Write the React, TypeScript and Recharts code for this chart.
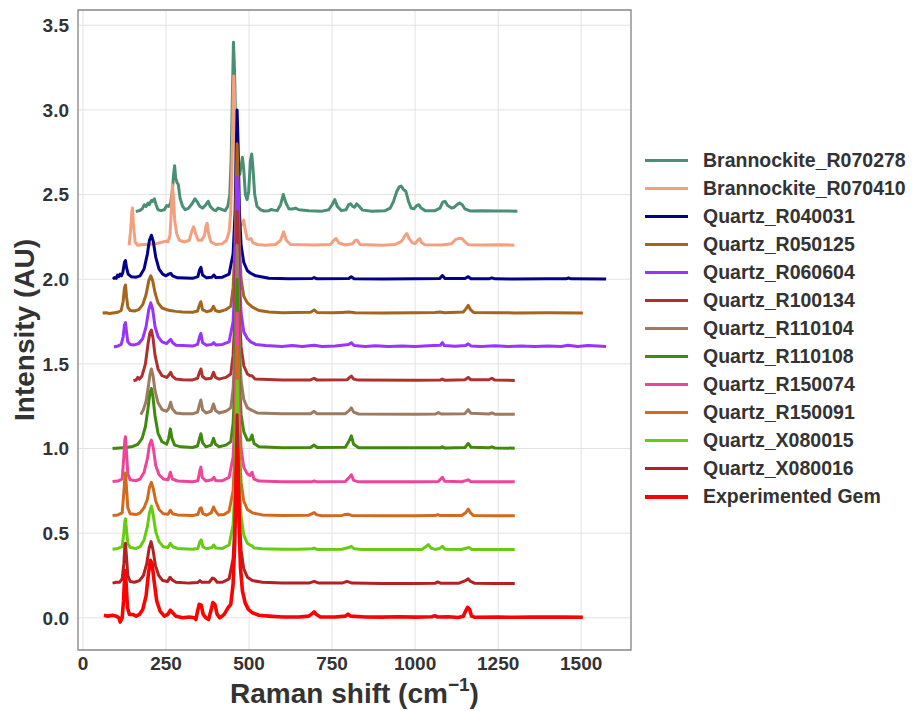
import { LineChart, Line, XAxis, YAxis, CartesianGrid, ReferenceArea, Label } from "recharts"

type Pt = [number, number]

const xTicks = [0, 250, 500, 750, 1000, 1250, 1500]
const yTicks = [0, 0.5, 1, 1.5, 2, 2.5, 3, 3.5]

// relative intensities (baseline 0, main peak 1) per spectrum
const brannockite278: Pt[] = [
  [159, 0], [170, 0.005], [178, 0.015], [185, 0.04], [190, 0.03], [196, 0.05], [200, 0.04], [206, 0.065],
  [210, 0.06], [215, 0.075], [220, 0.04], [226, 0.01], [235, 0.005], [245, 0.01], [252, 0.035], [258, 0.03],
  [264, 0.05], [269, 0.12], [273, 0.22], [276, 0.27], [279, 0.2], [283, 0.17], [287, 0.16], [292, 0.08],
  [300, 0.03], [308, 0.01], [318, 0.02], [330, 0.05], [337, 0.075], [343, 0.06], [352, 0.03], [360, 0.02],
  [370, 0.04], [377, 0.06], [383, 0.03], [393, 0.01], [400, 0.005], [407, 0.02], [414, 0.015], [420, 0.01],
  [428, 0.005], [436, 0.03], [442, 0.1], [446, 0.3], [450, 0.7], [453, 1.0], [456, 0.85], [460, 0.5],
  [466, 0.25], [472, 0.22], [477, 0.28], [480, 0.32], [484, 0.25], [489, 0.1], [494, 0.07], [499, 0.12],
  [504, 0.3], [508, 0.34], [512, 0.25], [517, 0.1], [524, 0.03], [535, 0.01], [545, 0.003], [560, 0.005],
  [567, 0.012], [574, 0.008], [585, 0.005], [595, 0.04], [603, 0.1], [611, 0.05], [620, 0.015], [630, 0.015],
  [640, 0.02], [650, 0.01], [680, 0.005], [720, 0.002], [740, 0.01], [750, 0.04], [758, 0.07], [766, 0.03],
  [778, 0.005], [792, 0.01], [800, 0.04], [806, 0.045], [812, 0.03], [818, 0.025], [824, 0.045], [832, 0.03],
  [842, 0.008], [870, 0.002], [910, 0.005], [925, 0.02], [935, 0.06], [945, 0.12], [952, 0.145], [958, 0.15],
  [965, 0.13], [972, 0.12], [980, 0.06], [988, 0.02], [996, 0.015], [1005, 0.035], [1011, 0.04], [1018, 0.02],
  [1030, 0.005], [1060, 0.005], [1075, 0.02], [1083, 0.055], [1090, 0.06], [1098, 0.035], [1110, 0.02],
  [1118, 0.025], [1126, 0.04], [1134, 0.05], [1142, 0.04], [1150, 0.015], [1165, 0.003], [1200, 0.005],
  [1250, 0.003], [1308, 0.002],
]

const brannockite410: Pt[] = [
  [139, 0], [143, 0.08], [147, 0.2], [149, 0.22], [152, 0.12], [157, 0.02], [165, 0], [180, 0.005],
  [200, 0.005], [220, 0.01], [240, 0.02], [250, 0.025], [256, 0.02], [262, 0.06], [266, 0.2], [269, 0.356],
  [272, 0.3], [276, 0.15], [282, 0.07], [290, 0.03], [305, 0.02], [320, 0.03], [327, 0.08], [333, 0.11],
  [339, 0.07], [347, 0.03], [357, 0.03], [366, 0.06], [371, 0.12], [374, 0.13], [378, 0.07], [385, 0.02],
  [400, 0.005], [420, 0.01], [432, 0.03], [440, 0.08], [445, 0.2], [449, 0.5], [452, 0.85], [454, 1.0],
  [457, 0.8], [460, 0.45], [466, 0.2], [472, 0.12], [478, 0.12], [484, 0.15], [488, 0.1], [494, 0.04],
  [500, 0.035], [506, 0.04], [512, 0.015], [525, 0.005], [550, 0], [580, 0.005], [595, 0.03], [604, 0.08],
  [612, 0.03], [625, 0.005], [700, 0.002], [745, 0.005], [755, 0.03], [762, 0.04], [770, 0.015], [790, 0.002],
  [812, 0.01], [820, 0.03], [826, 0.03], [834, 0.005], [900, 0], [940, 0.005], [960, 0.025], [970, 0.06],
  [975, 0.07], [982, 0.04], [992, 0.015], [1000, 0.01], [1008, 0.03], [1014, 0.04], [1020, 0.015],
  [1030, 0.003], [1080, 0.002], [1110, 0.01], [1122, 0.035], [1130, 0.04], [1142, 0.04], [1150, 0.02],
  [1160, 0.004], [1200, 0.002], [1250, 0.003], [1299, 0.001],
]

const quartzR040031: Pt[] = [
  [90, 0], [96, 0.01], [100, 0.005], [104, 0.025], [108, 0.015], [112, 0.03], [116, 0.02], [120, 0.04],
  [125, 0.1], [128, 0.11], [131, 0.07], [136, 0.03], [145, 0.015], [160, 0.012], [172, 0.02], [184, 0.06],
  [194, 0.15], [200, 0.23], [206, 0.26], [212, 0.22], [219, 0.13], [229, 0.06], [240, 0.03], [250, 0.02],
  [258, 0.03], [264, 0.035], [270, 0.02], [285, 0.008], [330, 0.005], [346, 0.015], [351, 0.055], [355, 0.07],
  [360, 0.025], [372, 0.008], [388, 0.012], [394, 0.025], [400, 0.01], [420, 0.012], [440, 0.03], [452, 0.15],
  [458, 0.4], [462, 0.8], [464, 1.0], [467, 0.8], [471, 0.4], [476, 0.2], [484, 0.1], [495, 0.05],
  [505, 0.035], [520, 0.02], [560, 0.006], [620, 0.002], [690, 0.004], [696, 0.01], [705, 0.002],
  [800, 0.004], [808, 0.015], [816, 0.003], [900, 0.001], [1000, 0.002], [1074, 0.004], [1082, 0.022],
  [1090, 0.004], [1150, 0.004], [1160, 0.015], [1168, 0.003], [1222, 0.002], [1231, 0.008], [1240, 0.002],
  [1300, 0.001], [1400, 0.002], [1455, 0.003], [1462, 0.007], [1470, 0.002], [1575, 0.001],
]

const quartzR050125: Pt[] = [
  [59, 0], [70, 0.002], [80, -0.003], [90, 0], [105, 0.005], [115, 0.015], [121, 0.07], [125, 0.15],
  [128, 0.166], [131, 0.1], [135, 0.035], [142, 0.015], [155, 0.012], [168, 0.02], [180, 0.05], [190, 0.11],
  [198, 0.19], [204, 0.22], [210, 0.19], [217, 0.12], [226, 0.06], [238, 0.03], [252, 0.02], [262, 0.015],
  [280, 0.01], [300, 0.006], [330, 0.005], [345, 0.012], [351, 0.05], [355, 0.067], [360, 0.02], [372, 0.008],
  [386, 0.015], [393, 0.04], [399, 0.015], [410, 0.008], [430, 0.02], [445, 0.04], [452, 0.15], [458, 0.4],
  [462, 0.8], [464, 1.0], [467, 0.8], [471, 0.4], [476, 0.2], [484, 0.1], [495, 0.06], [510, 0.035],
  [530, 0.015], [560, 0.006], [600, 0.002], [685, 0.005], [696, 0.018], [705, 0.004], [750, 0.002],
  [780, 0.004], [800, 0.006], [820, 0.002], [900, 0.001], [1000, 0.002], [1060, 0.004], [1075, 0.006],
  [1090, 0.002], [1145, 0.006], [1153, 0.025], [1160, 0.045], [1167, 0.02], [1176, 0.004], [1250, 0.002],
  [1300, 0.001], [1400, 0.002], [1505, 0.001],
]

const quartzR060604: Pt[] = [
  [93, 0], [105, 0.005], [115, 0.015], [121, 0.06], [125, 0.13], [128, 0.144], [131, 0.09], [135, 0.03],
  [142, 0.015], [155, 0.012], [168, 0.02], [180, 0.05], [190, 0.12], [198, 0.22], [204, 0.26], [210, 0.22],
  [217, 0.12], [226, 0.06], [238, 0.03], [252, 0.02], [259, 0.035], [264, 0.045], [270, 0.025], [280, 0.01],
  [300, 0.008], [330, 0.005], [345, 0.015], [351, 0.06], [355, 0.08], [360, 0.025], [372, 0.01], [388, 0.015],
  [394, 0.025], [400, 0.012], [420, 0.015], [440, 0.03], [452, 0.15], [458, 0.4], [462, 0.8], [464, 1.0],
  [467, 0.8], [471, 0.4], [476, 0.2], [484, 0.09], [495, 0.05], [505, 0.03], [520, 0.015], [550, 0.008],
  [600, 0.003], [630, 0.008], [660, 0.002], [696, 0.01], [720, 0.003], [760, 0.006], [800, 0.015],
  [808, 0.025], [816, 0.008], [850, 0.002], [880, 0.007], [920, 0.002], [960, 0.006], [1000, 0.003],
  [1040, 0.007], [1076, 0.01], [1082, 0.025], [1088, 0.008], [1120, 0.004], [1152, 0.008], [1160, 0.018],
  [1168, 0.006], [1200, 0.003], [1240, 0.007], [1280, 0.002], [1320, 0.005], [1360, 0.003], [1400, 0.006],
  [1440, 0.002], [1460, 0.01], [1490, 0.003], [1520, 0.008], [1550, 0.006], [1575, 0.002],
]

const quartzR100134: Pt[] = [
  [152, 0], [160, 0.005], [165, 0.02], [170, 0.01], [178, 0.03], [188, 0.1], [196, 0.22], [201, 0.28],
  [206, 0.3], [211, 0.25], [217, 0.15], [226, 0.07], [238, 0.03], [252, 0.02], [259, 0.035], [264, 0.05],
  [270, 0.025], [280, 0.01], [300, 0.006], [330, 0.005], [345, 0.015], [351, 0.05], [355, 0.07], [360, 0.025],
  [370, 0.01], [386, 0.015], [393, 0.05], [399, 0.02], [410, 0.01], [430, 0.02], [445, 0.04], [452, 0.15],
  [458, 0.4], [462, 0.8], [464, 1.0], [467, 0.8], [471, 0.4], [476, 0.2], [484, 0.09], [495, 0.04],
  [503, 0.03], [509, 0.03], [518, 0.01], [600, 0.005], [685, 0.005], [696, 0.015], [705, 0.004],
  [795, 0.006], [803, 0.02], [808, 0.028], [815, 0.01], [830, 0.004], [1000, 0.003], [1075, 0.004],
  [1082, 0.01], [1090, 0.003], [1150, 0.006], [1160, 0.02], [1168, 0.006], [1222, 0.006], [1231, 0.015],
  [1240, 0.004], [1300, 0.002],
]

const quartzR110104: Pt[] = [
  [174, 0], [182, 0.03], [190, 0.08], [197, 0.17], [202, 0.24], [206, 0.27], [211, 0.23], [217, 0.14],
  [226, 0.07], [238, 0.03], [252, 0.02], [259, 0.04], [264, 0.073], [269, 0.035], [280, 0.01], [300, 0.006],
  [330, 0.005], [345, 0.015], [351, 0.06], [355, 0.087], [360, 0.03], [370, 0.01], [386, 0.02], [393, 0.063],
  [399, 0.025], [410, 0.01], [430, 0.02], [445, 0.04], [452, 0.15], [458, 0.4], [462, 0.8], [464, 1.0],
  [467, 0.8], [471, 0.4], [476, 0.2], [484, 0.09], [495, 0.04], [509, 0.025], [525, 0.01], [600, 0.005],
  [685, 0.006], [696, 0.02], [705, 0.005], [790, 0.006], [802, 0.025], [808, 0.04], [815, 0.015],
  [830, 0.004], [1000, 0.003], [1062, 0.004], [1070, 0.012], [1078, 0.004], [1150, 0.006], [1160, 0.03],
  [1168, 0.008], [1222, 0.004], [1231, 0.01], [1240, 0.003], [1300, 0.002],
]

const quartzR110108: Pt[] = [
  [89, 0], [110, 0.003], [130, 0.006], [150, 0.012], [165, 0.025], [178, 0.06], [188, 0.13], [196, 0.24],
  [201, 0.32], [206, 0.355], [211, 0.3], [217, 0.19], [226, 0.09], [238, 0.04], [252, 0.025], [258, 0.06],
  [263, 0.116], [268, 0.06], [276, 0.02], [295, 0.01], [330, 0.006], [345, 0.015], [351, 0.06], [355, 0.087],
  [360, 0.035], [370, 0.01], [386, 0.02], [393, 0.06], [399, 0.025], [410, 0.01], [430, 0.02], [445, 0.04],
  [452, 0.15], [458, 0.4], [462, 0.8], [464, 1.0], [467, 0.8], [471, 0.4], [476, 0.2], [484, 0.1],
  [495, 0.05], [503, 0.05], [509, 0.08], [515, 0.03], [530, 0.01], [600, 0.005], [685, 0.006], [696, 0.02],
  [705, 0.006], [790, 0.008], [800, 0.04], [808, 0.075], [815, 0.025], [830, 0.005], [1000, 0.004],
  [1076, 0.004], [1082, 0.01], [1090, 0.003], [1150, 0.006], [1160, 0.03], [1168, 0.008], [1222, 0.004],
  [1231, 0.01], [1240, 0.003], [1300, 0.002],
]

const quartzR150074: Pt[] = [
  [89, 0.005], [105, 0.008], [118, 0.02], [123, 0.15], [126, 0.25], [128, 0.27], [131, 0.18], [135, 0.05],
  [142, 0.015], [160, 0.01], [172, 0.02], [184, 0.06], [194, 0.14], [200, 0.22], [206, 0.25], [212, 0.2],
  [219, 0.1], [229, 0.045], [242, 0.02], [256, 0.015], [263, 0.06], [269, 0.02], [285, 0.008], [330, 0.004],
  [346, 0.01], [352, 0.07], [355, 0.09], [359, 0.03], [370, 0.008], [388, 0.015], [394, 0.03], [400, 0.01],
  [420, 0.01], [440, 0.03], [452, 0.15], [458, 0.4], [462, 0.8], [464, 1.0], [467, 0.8], [471, 0.4],
  [476, 0.2], [484, 0.09], [495, 0.05], [503, 0.04], [509, 0.06], [515, 0.02], [530, 0.008], [600, 0.004],
  [690, 0.004], [696, 0.008], [705, 0.003], [790, 0.005], [802, 0.03], [808, 0.045], [815, 0.012],
  [830, 0.003], [1000, 0.003], [1070, 0.005], [1077, 0.02], [1082, 0.03], [1089, 0.006], [1140, 0.004],
  [1155, 0.012], [1160, 0.015], [1168, 0.004], [1240, 0.004], [1300, 0.003],
]

const quartzR150091: Pt[] = [
  [89, 0.005], [105, 0.008], [118, 0.02], [123, 0.14], [126, 0.23], [128, 0.256], [131, 0.17], [135, 0.05],
  [142, 0.015], [160, 0.01], [172, 0.02], [184, 0.05], [194, 0.1], [200, 0.17], [206, 0.2], [212, 0.16],
  [219, 0.09], [229, 0.04], [242, 0.015], [256, 0.012], [263, 0.035], [270, 0.015], [285, 0.008], [330, 0.004],
  [346, 0.01], [352, 0.045], [356, 0.05], [361, 0.015], [372, 0.006], [386, 0.02], [393, 0.055], [399, 0.03],
  [408, 0.008], [425, 0.01], [440, 0.03], [452, 0.15], [458, 0.4], [462, 0.8], [464, 1.0], [467, 0.8],
  [471, 0.4], [476, 0.2], [484, 0.09], [495, 0.04], [510, 0.02], [540, 0.008], [600, 0.004], [680, 0.006],
  [690, 0.015], [696, 0.022], [704, 0.008], [720, 0.003], [780, 0.005], [790, 0.01], [798, 0.012],
  [808, 0.005], [900, 0.003], [1000, 0.003], [1060, 0.004], [1068, 0.01], [1076, 0.004], [1140, 0.004],
  [1152, 0.02], [1160, 0.042], [1167, 0.02], [1176, 0.004], [1240, 0.003], [1300, 0.003],
]

const quartzX080015: Pt[] = [
  [89, 0.005], [105, 0.01], [118, 0.02], [123, 0.1], [126, 0.17], [128, 0.185], [131, 0.12], [135, 0.04],
  [142, 0.015], [160, 0.01], [172, 0.02], [184, 0.06], [194, 0.14], [200, 0.22], [206, 0.26], [212, 0.2],
  [219, 0.11], [229, 0.05], [242, 0.02], [256, 0.015], [263, 0.04], [270, 0.02], [285, 0.01], [330, 0.005],
  [346, 0.01], [352, 0.05], [356, 0.06], [361, 0.02], [372, 0.008], [388, 0.015], [394, 0.03], [400, 0.012],
  [420, 0.01], [440, 0.03], [452, 0.15], [458, 0.4], [462, 0.8], [464, 1.0], [467, 0.8], [471, 0.4],
  [476, 0.2], [484, 0.09], [495, 0.04], [503, 0.03], [509, 0.025], [516, 0.012], [540, 0.008], [600, 0.005],
  [650, 0.005], [690, 0.008], [696, 0.012], [705, 0.004], [780, 0.005], [800, 0.015], [808, 0.022],
  [816, 0.008], [840, 0.003], [950, 0.003], [1020, 0.004], [1032, 0.02], [1040, 0.032], [1048, 0.012],
  [1060, 0.004], [1074, 0.01], [1082, 0.022], [1090, 0.005], [1140, 0.004], [1156, 0.012], [1162, 0.016],
  [1170, 0.004], [1240, 0.003], [1300, 0.003],
]

const quartzX080016: Pt[] = [
  [89, 0.005], [100, 0.01], [110, 0.01], [118, 0.03], [123, 0.12], [126, 0.22], [128, 0.24], [131, 0.16],
  [135, 0.05], [142, 0.015], [155, 0.01], [170, 0.02], [182, 0.05], [192, 0.12], [199, 0.21], [205, 0.25],
  [211, 0.2], [218, 0.11], [228, 0.05], [240, 0.02], [255, 0.015], [262, 0.04], [268, 0.025], [280, 0.01],
  [320, 0.005], [345, 0.008], [352, 0.02], [358, 0.01], [380, 0.01], [390, 0.035], [396, 0.03], [404, 0.01],
  [420, 0.01], [440, 0.03], [452, 0.15], [458, 0.4], [462, 0.8], [464, 1.0], [467, 0.8], [471, 0.4],
  [476, 0.2], [484, 0.09], [495, 0.04], [510, 0.02], [540, 0.01], [600, 0.005], [680, 0.005], [696, 0.015],
  [710, 0.005], [780, 0.005], [795, 0.015], [810, 0.005], [900, 0.003], [1000, 0.003], [1060, 0.004],
  [1068, 0.012], [1078, 0.004], [1130, 0.004], [1152, 0.02], [1160, 0.03], [1167, 0.015], [1180, 0.004],
  [1240, 0.003], [1300, 0.003],
]

const experimentedGem: Pt[] = [
  [63, 0.015], [75, 0.01], [90, 0.015], [100, 0.01], [108, 0], [112, -0.025], [118, 0], [122, 0.1],
  [125, 0.22], [127, 0.28], [130, 0.2], [134, 0.06], [140, 0.02], [150, 0.02], [160, 0.01], [170, 0.02],
  [180, 0.05], [190, 0.13], [197, 0.26], [203, 0.34], [208, 0.32], [214, 0.22], [222, 0.1], [232, 0.04],
  [245, 0.01], [255, 0.02], [263, 0.045], [270, 0.03], [280, 0.01], [300, 0], [320, 0.005], [335, 0],
  [340, -0.01], [345, 0.04], [350, 0.08], [356, 0.075], [362, 0.02], [370, 0], [378, -0.01], [385, 0.04],
  [391, 0.09], [397, 0.08], [404, 0.02], [412, 0], [425, 0.02], [437, 0.06], [445, 0.08], [452, 0.2],
  [457, 0.45], [461, 0.8], [464, 1.0], [467, 0.85], [470, 0.55], [474, 0.3], [480, 0.16], [488, 0.09],
  [498, 0.05], [510, 0.03], [530, 0.015], [560, 0.01], [600, 0.005], [650, 0.005], [680, 0.01], [690, 0.025],
  [696, 0.035], [703, 0.02], [715, 0.005], [760, 0.005], [790, 0.01], [798, 0.022], [806, 0.01], [850, 0.005],
  [900, 0.004], [950, 0.006], [1000, 0.004], [1050, 0.006], [1060, 0.012], [1068, 0.005], [1100, 0.006],
  [1130, 0.002], [1145, 0.01], [1152, 0.04], [1158, 0.062], [1164, 0.05], [1170, 0.01], [1180, 0.003],
  [1250, 0.005], [1300, 0.003], [1350, 0.005], [1400, 0.004], [1450, 0.005], [1505, 0.003],
]

const seriesNames = [
  "Brannockite_R070278", "Brannockite_R070410", "Quartz_R040031", "Quartz_R050125", "Quartz_R060604",
  "Quartz_R100134", "Quartz_R110104", "Quartz_R110108", "Quartz_R150074", "Quartz_R150091",
  "Quartz_X080015", "Quartz_X080016", "Experimented Gem",
]
const seriesColors = [
  "#4a8f73", "#f4a07e", "#00008b", "#a5651c", "#9933ff", "#b03030", "#9c7b60",
  "#3f8a0f", "#f0449a", "#d2691e", "#66cc11", "#b22222", "#ff0000",
]
const seriesOffsets = [2.4, 2.2, 2.0, 1.8, 1.6, 1.4, 1.2, 1.0, 0.8, 0.6, 0.4, 0.2, 0]
const seriesPoints = [
  brannockite278, brannockite410, quartzR040031, quartzR050125, quartzR060604, quartzR100134,
  quartzR110104, quartzR110108, quartzR150074, quartzR150091, quartzX080015, quartzX080016, experimentedGem,
]

const font = '"Liberation Sans", Arial, Helvetica, sans-serif'
const textColor = "#333333"

function XTitle(props: any) {
  const vb = props.viewBox
  const cx = vb.x + vb.width / 2
  return (
    <text x={cx} y={703} textAnchor="middle" fontFamily={font} fontWeight="bold" fontSize={28} fill={textColor}>
      Raman shift (cm
      <tspan dy={-12} fontSize={19}>−1</tspan>
      <tspan dy={12}>)</tspan>
    </text>
  )
}

function YTitle(props: any) {
  const vb = props.viewBox
  const cy = vb.y + vb.height / 2
  return (
    <text
      transform={`translate(34, ${cy}) rotate(-90)`}
      textAnchor="middle"
      fontFamily={font}
      fontWeight="bold"
      fontSize={28}
      fill={textColor}
    >
      Intensity (AU)
    </text>
  )
}

export default function App() {
  const tickStyle = { fontFamily: font, fontWeight: "bold", fontSize: 19, fill: textColor }
  return (
    <div style={{ position: "absolute", left: 0, top: 0, width: 912, height: 711, background: "#fff" }}>
      <LineChart width={912} height={711} margin={{ top: 10, right: 281, bottom: 0, left: 0 }}>
        <CartesianGrid stroke="#e3e3e3" strokeWidth={1} />
        <XAxis
          dataKey="x"
          type="number"
          domain={[-15, 1650]}
          ticks={xTicks}
          allowDuplicatedCategory={false}
          tickLine={false}
          axisLine={false}
          tickSize={4}
          tickMargin={3}
          height={61}
          tick={tickStyle}
        >
          <Label content={<XTitle />} />
        </XAxis>
        <YAxis
          type="number"
          domain={[-0.19, 3.59]}
          ticks={yTicks}
          tickFormatter={(v: number) => v.toFixed(1)}
          tickLine={false}
          axisLine={false}
          tickSize={4}
          tickMargin={5}
          width={78}
          tick={tickStyle}
        >
          <Label content={<YTitle />} />
        </YAxis>
        {seriesPoints.map((pts, i) => (
          <Line
            key={seriesNames[i]}
            name={seriesNames[i]}
            data={pts.map(([x, v]) => ({ x, y: v + seriesOffsets[i] }))}
            dataKey="y"
            stroke={seriesColors[i]}
            strokeWidth={i === 12 ? 3.6 : 3}
            strokeLinejoin="round"
            dot={false}
            activeDot={false}
            isAnimationActive={false}
          />
        ))}
        <ReferenceArea x1={-15} x2={1650} y1={-0.19} y2={3.59} fill="none" stroke="#8a8a8a" strokeWidth={1.3} />
      </LineChart>
      <div style={{ position: "absolute", left: 645, top: 146, fontFamily: font }}>
        {seriesNames.map((name, i) => (
          <div key={name} style={{ display: "flex", alignItems: "center", height: 28.08 }}>
            <div style={{ width: 43, height: i === 12 ? 4 : 3, background: seriesColors[i] }} />
            <span style={{ marginLeft: 15, fontSize: 19.5, fontWeight: "bold", color: textColor, whiteSpace: "nowrap" }}>
              {name}
            </span>
          </div>
        ))}
      </div>
    </div>
  )
}
